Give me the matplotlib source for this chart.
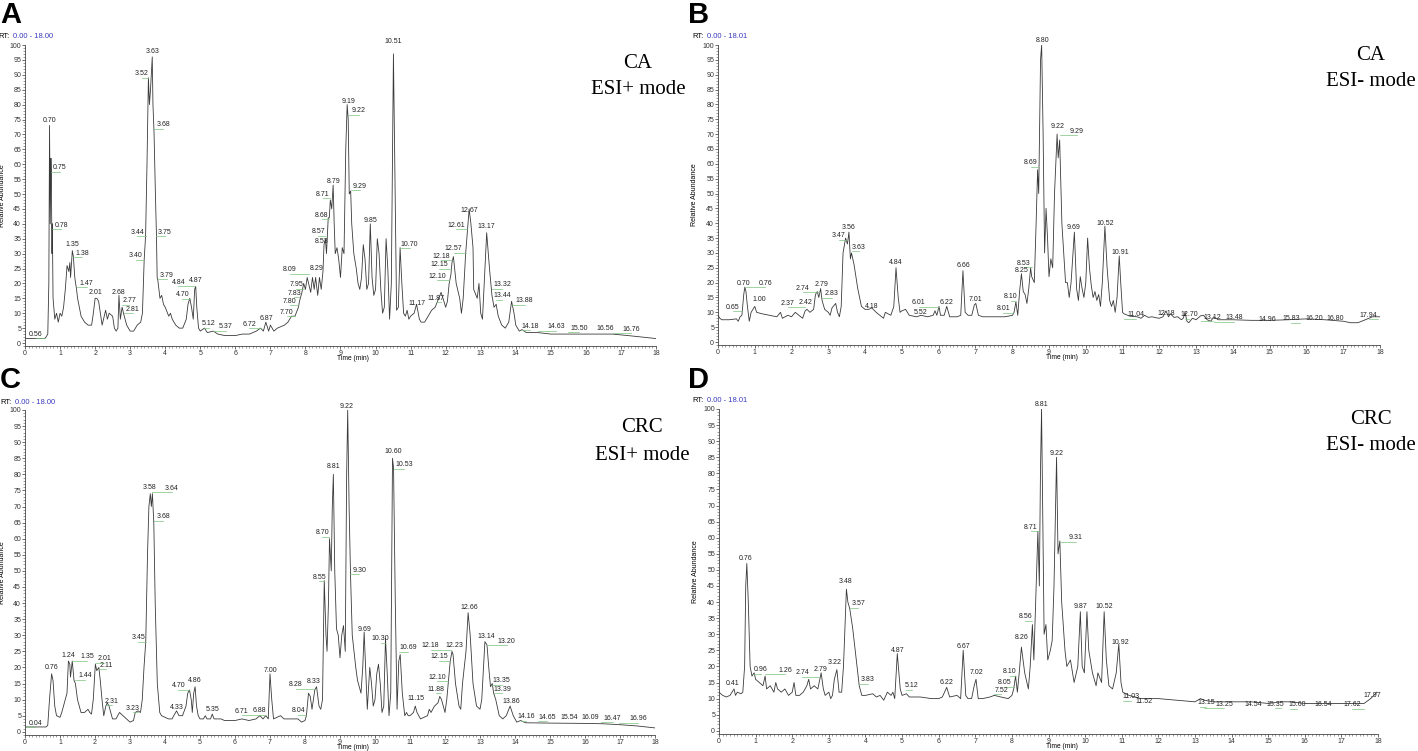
import numpy as np
import matplotlib.pyplot as plt
from matplotlib.ticker import MultipleLocator

W, H = 1418, 751

# ---- panel A : CA, ESI+ ----
a_t = [0, 0.56, 0.6, 0.65, 0.68, 0.70, 0.72, 0.74, 0.75, 0.77, 0.78, 0.80, 0.85, 0.9, 0.95, 1.0, 1.05,
       1.1, 1.15, 1.2, 1.25, 1.28, 1.3, 1.35, 1.38, 1.42, 1.47, 1.5, 1.6, 1.7, 1.8, 1.9, 1.95, 2.0, 2.05,
       2.1, 2.15, 2.2, 2.3, 2.35, 2.4, 2.5, 2.55, 2.6, 2.65, 2.68, 2.72, 2.77, 2.81, 2.9, 3.0, 3.1, 3.2,
       3.3, 3.35, 3.40, 3.44, 3.48, 3.52, 3.55, 3.58, 3.63, 3.65, 3.68, 3.72, 3.75, 3.77, 3.79, 3.85, 3.9,
       3.95, 4.0, 4.1, 4.15, 4.2, 4.3, 4.4, 4.5, 4.6, 4.65, 4.70, 4.75, 4.8, 4.84, 4.87, 4.9, 4.95, 5.0,
       5.12, 5.2, 5.37, 5.5, 5.7, 6.0, 6.2, 6.4, 6.6, 6.72, 6.8, 6.87, 6.95, 7.0, 7.1, 7.2, 7.4, 7.5, 7.6,
       7.70, 7.8, 7.83, 7.9, 7.95, 8.0, 8.05, 8.09, 8.15, 8.2, 8.25, 8.29, 8.35, 8.4, 8.45, 8.5, 8.53,
       8.57, 8.6, 8.65, 8.68, 8.71, 8.75, 8.79, 8.82, 8.85, 8.9, 8.95, 9.0, 9.05, 9.1, 9.15, 9.19, 9.22,
       9.25, 9.29, 9.32, 9.38, 9.45, 9.5, 9.55, 9.6, 9.65, 9.7, 9.75, 9.8, 9.85, 9.9, 9.95, 10.0, 10.05,
       10.1, 10.15, 10.2, 10.25, 10.3, 10.35, 10.4, 10.45, 10.51, 10.55, 10.6, 10.65, 10.70, 10.75, 10.8,
       10.85, 10.9, 10.95, 11.0, 11.1, 11.17, 11.25, 11.3, 11.4, 11.5, 11.6, 11.7, 11.8, 11.87, 11.95,
       12.0, 12.05, 12.10, 12.15, 12.18, 12.22, 12.3, 12.4, 12.45, 12.5, 12.57, 12.61, 12.67, 12.72,
       12.78, 12.8, 12.9, 12.95, 13.0, 13.05, 13.1, 13.17, 13.25, 13.32, 13.38, 13.44, 13.5, 13.6, 13.7,
       13.8, 13.88, 13.95, 14.0, 14.1, 14.18, 14.3, 14.63, 15.0, 15.5, 16.0, 16.56, 16.76, 17.2, 18.0]
a_y = [1.5, 1.5, 2, 3, 20, 73, 40, 62, 57, 30, 40, 15, 8, 10, 7, 10, 9,
       12, 18, 26, 24, 27, 22, 31, 29, 22, 18, 15, 9, 7, 6, 6, 10, 15, 15,
       14, 10, 6, 11, 8, 10, 9, 5, 4, 5, 16, 8, 12, 10, 6, 4, 4, 6,
       7, 10, 28, 36, 60, 89, 80, 85, 96, 80, 71, 50, 36, 22, 21, 15, 16,
       13, 12, 9, 10, 8, 6, 5, 5, 8, 13, 15, 12, 8, 18, 19, 12, 5, 4,
       5, 3.5, 4, 3, 2.5, 2.5, 3, 3, 4, 5, 4, 7, 4, 6, 4, 5, 6, 7, 9,
       9, 12, 14, 17, 20, 18, 22, 20, 17, 22, 18, 22, 16, 22, 18, 24, 33,
       35, 30, 42, 42, 48, 45, 53, 40, 30, 32, 28, 22, 32, 30, 65, 80, 75,
       50, 51, 40, 30, 25, 20, 18, 22, 33, 28, 18, 20, 40, 22, 16, 18, 35,
       30, 18, 10, 12, 35, 25, 8, 20, 97, 60, 11, 12, 32, 20, 10,
       9, 11, 8, 9, 10, 13, 8, 7, 7, 9, 11, 12, 15, 17, 14,
       12, 14, 20, 23, 27, 29, 20, 15, 10, 15, 30, 36, 45, 40,
       32, 18, 15, 20, 10, 8, 20, 37, 25, 16, 12, 13, 9, 6, 5,
       7, 14, 10, 6, 4, 4.5, 3.5, 3.5, 3, 3, 3, 3, 3, 2.5, 1.5]
a_labels = [("0.56", 0.31, 3.0), ("0.70", 0.71, 74.6), ("0.75", 1.0, 58.8), ("0.78", 1.03, 39.5),
            ("1.35", 1.36, 33.2), ("1.38", 1.64, 30.2), ("1.47", 1.76, 20.1), ("2.01", 2.01, 16.9),
            ("2.68", 2.68, 16.9), ("2.77", 2.97, 14.2), ("2.81", 3.07, 11.4), ("3.40", 3.16, 29.3),
            ("3.44", 3.20, 37.1), ("3.52", 3.33, 90.3), ("3.63", 3.64, 97.9), ("3.68", 3.94, 73.2),
            ("3.75", 3.99, 37.1), ("3.79", 4.04, 22.7), ("4.70", 4.49, 16.2), ("4.84", 4.37, 20.3),
            ("4.87", 4.87, 21.0), ("5.12", 5.25, 6.4), ("5.37", 5.73, 5.5), ("6.72", 6.39, 6.2),
            ("6.87", 6.89, 8.3), ("7.70", 7.46, 10.3), ("7.80", 7.55, 13.9), ("7.83", 7.68, 16.7),
            ("7.95", 7.74, 19.5), ("8.09", 7.55, 24.6), ("8.29", 8.31, 25.0), ("8.53", 8.46, 33.9),
            ("8.57", 8.36, 37.3), ("8.68", 8.46, 42.9), ("8.71", 8.50, 50.0), ("8.79", 8.79, 54.3),
            ("9.19", 9.22, 80.9), ("9.22", 9.53, 77.9), ("9.29", 9.55, 52.6), ("9.85", 9.86, 41.2),
            ("10.51", 10.50, 101.1), ("10.70", 10.97, 33.2), ("11.17", 11.18, 13.4), ("11.87", 11.72, 15.0),
            ("12.10", 11.76, 22.3), ("12.15", 11.81, 26.3), ("12.18", 11.88, 29.1), ("12.57", 12.23, 31.6),
            ("12.61", 12.29, 39.5), ("12.67", 12.67, 44.5), ("13.17", 13.16, 39.2), ("13.32", 13.62, 19.5),
            ("13.44", 13.62, 15.8), ("13.88", 14.25, 14.2), ("14.18", 14.40, 5.7), ("14.63", 15.16, 5.5),
            ("15.50", 15.80, 4.9), ("16.56", 16.56, 5.0), ("16.76", 17.29, 4.7)]

# ---- panel B : CA, ESI- ----
b_t = [0, 0.05, 0.1, 0.3, 0.5, 0.55, 0.6, 0.65, 0.7, 0.73, 0.76, 0.8, 0.85, 0.9, 1.0, 1.05, 1.2, 1.4,
       1.6, 1.7, 1.75, 1.9, 2.0, 2.1, 2.2, 2.3, 2.37, 2.42, 2.5, 2.6, 2.65, 2.7, 2.74, 2.79, 2.83, 2.9,
       3.0, 3.05, 3.1, 3.2, 3.25, 3.3, 3.35, 3.4, 3.47, 3.52, 3.56, 3.6, 3.63, 3.7, 3.8, 3.9, 4.0, 4.1,
       4.18, 4.3, 4.4, 4.5, 4.55, 4.7, 4.78, 4.84, 4.9, 4.95, 5.0, 5.1, 5.2, 5.4, 5.52, 5.7, 5.85, 5.9,
       5.95, 6.01, 6.05, 6.15, 6.22, 6.3, 6.5, 6.6, 6.66, 6.72, 6.8, 6.9, 6.97, 7.01, 7.08, 7.2, 7.5,
       7.8, 8.01, 8.05, 8.10, 8.15, 8.2, 8.25, 8.3, 8.35, 8.4, 8.45, 8.5, 8.53, 8.6, 8.65, 8.69, 8.72,
       8.77, 8.80, 8.84, 8.88, 8.92, 8.96, 9.0, 9.05, 9.1, 9.15, 9.22, 9.25, 9.29, 9.35, 9.4, 9.45, 9.5,
       9.55, 9.6, 9.69, 9.75, 9.8, 9.85, 9.9, 9.95, 10.0, 10.05, 10.1, 10.15, 10.2, 10.25, 10.3, 10.35,
       10.4, 10.45, 10.52, 10.58, 10.65, 10.7, 10.75, 10.8, 10.85, 10.91, 10.95, 11.0, 11.04, 11.2, 11.4,
       11.5, 11.6, 11.7, 11.8, 11.9, 12.0, 12.1, 12.18, 12.25, 12.3, 12.4, 12.5, 12.6, 12.65, 12.70,
       12.75, 12.8, 12.9, 13.0, 13.12, 13.2, 13.3, 13.4, 13.48, 13.6, 14.0, 14.5, 15.0, 15.5, 16.0, 16.5,
       17.0, 17.2, 17.4, 17.6, 17.8, 18.0]
b_y = [9, 8, 7.5, 7.5, 7.8, 7, 8.5, 9, 16, 18.5, 17, 12, 7, 10, 12, 10, 9.5, 9,
       8.5, 10, 8, 9, 8.5, 10, 9, 8, 10.5, 11, 10, 11, 16, 17, 15, 18, 14, 11,
       10, 9, 11.5, 13, 10, 8.5, 12, 30, 35, 33, 37, 28, 30, 26, 18, 12, 11, 11,
       11.5, 10, 9, 8, 10, 9, 12, 25, 15, 10, 10.5, 11, 9, 8.5, 9, 8.5, 9, 10.5,
       9, 12, 9, 9, 12, 8.5, 8.5, 9, 24, 10, 9, 9, 12.5, 13, 9, 8.5, 8.5,
       8.5, 9, 10, 13.5, 9, 17, 23, 17, 16, 13, 18, 25, 22, 20, 40, 58, 50,
       95, 100, 70, 30, 45, 35, 22, 28, 25, 50, 70, 62, 68, 40, 30, 20, 20,
       15, 20, 37, 18, 14, 22, 18, 15, 20, 35, 25, 19, 15, 17, 14, 16,
       12, 20, 39, 25, 14, 12, 14, 10, 15, 29, 20, 10, 9.5, 8.7, 8.5,
       8, 9, 8.3, 8.5, 8.2, 8, 8.5, 10.5, 8.5, 9.5, 8.3, 8.5, 7.5, 8, 10,
       7, 6.5, 8, 7.5, 8.8, 9, 7.5, 7, 8.5, 7.5, 7.5, 7.3, 7.3, 7.5, 7.8, 7.5,
       7, 6.5, 6.5, 7.5, 8.5, 8.5]
b_labels = [("0.65", 0.40, 11.7), ("0.70", 0.70, 19.7), ("0.76", 1.29, 19.7), ("1.00", 1.11, 14.3),
            ("2.37", 1.90, 13.0), ("2.42", 2.38, 13.4), ("2.74", 2.31, 18.0), ("2.79", 2.81, 19.4),
            ("2.83", 3.10, 16.2), ("3.47", 3.29, 35.7), ("3.56", 3.56, 38.6), ("3.63", 3.83, 31.8),
            ("4.18", 4.17, 12.0), ("4.84", 4.83, 26.9), ("5.52", 5.51, 10.0), ("6.01", 5.46, 13.2),
            ("6.22", 6.21, 13.4), ("6.66", 6.66, 25.6), ("7.01", 7.01, 14.3), ("8.01", 7.76, 11.2),
            ("8.10", 7.96, 15.2), ("8.25", 8.26, 24.2), ("8.53", 8.32, 26.4), ("8.69", 8.50, 60.3),
            ("8.80", 8.82, 101.5), ("9.22", 9.23, 72.4), ("9.29", 9.76, 70.9), ("9.69", 9.68, 38.6),
            ("10.52", 10.54, 40.0), ("10.91", 10.93, 30.1), ("11.04", 11.37, 9.2), ("12.18", 12.20, 9.5),
            ("12.70", 12.82, 9.2), ("13.12", 13.45, 8.3), ("13.48", 14.04, 8.1), ("14.96", 14.94, 7.5),
            ("15.83", 15.58, 7.8), ("16.20", 16.20, 7.8), ("16.80", 16.79, 7.8), ("17.94", 17.69, 8.9)]

# ---- panel C : CRC, ESI+ ----
c_t = [0, 0.6, 0.65, 0.7, 0.76, 0.8, 0.85, 0.9, 1.0, 1.05, 1.1, 1.15, 1.2, 1.24, 1.28, 1.3, 1.35, 1.4,
       1.44, 1.5, 1.6, 1.7, 1.8, 1.85, 1.9, 1.95, 2.01, 2.05, 2.11, 2.15, 2.2, 2.25, 2.31, 2.35, 2.4,
       2.45, 2.5, 2.6, 2.7, 2.8, 2.9, 3.0, 3.1, 3.15, 3.23, 3.3, 3.35, 3.4, 3.45, 3.5, 3.54, 3.58, 3.61,
       3.64, 3.68, 3.72, 3.78, 3.85, 3.9, 4.0, 4.1, 4.2, 4.25, 4.33, 4.4, 4.5, 4.6, 4.65, 4.70, 4.75,
       4.78, 4.82, 4.86, 4.9, 4.95, 5.0, 5.1, 5.15, 5.2, 5.3, 5.35, 5.4, 5.5, 5.6, 5.7, 6.0, 6.2, 6.4,
       6.6, 6.71, 6.8, 6.88, 6.95, 7.0, 7.05, 7.1, 7.2, 7.3, 7.4, 7.6, 7.8, 7.9, 8.0, 8.04, 8.1, 8.15,
       8.2, 8.28, 8.33, 8.4, 8.45, 8.5, 8.55, 8.6, 8.63, 8.67, 8.70, 8.75, 8.78, 8.81, 8.85, 8.9, 8.95,
       9.0, 9.05, 9.1, 9.15, 9.19, 9.22, 9.26, 9.3, 9.35, 9.4, 9.45, 9.5, 9.55, 9.6, 9.65, 9.69, 9.73,
       9.78, 9.85, 9.9, 9.95, 10.0, 10.05, 10.1, 10.15, 10.2, 10.25, 10.3, 10.35, 10.4, 10.45, 10.5,
       10.53, 10.58, 10.63, 10.68, 10.72, 10.78, 10.85, 10.9, 10.95, 11.0, 11.1, 11.15, 11.2, 11.3,
       11.4, 11.5, 11.55, 11.6, 11.7, 11.8, 11.85, 11.9, 11.95, 12.0, 12.05, 12.1, 12.15, 12.2, 12.23,
       12.3, 12.4, 12.45, 12.5, 12.6, 12.66, 12.72, 12.8, 12.9, 13.0, 13.05, 13.1, 13.14, 13.2, 13.25,
       13.3, 13.35, 13.39, 13.45, 13.55, 13.65, 13.75, 13.86, 13.95, 14.05, 14.16, 14.3, 15.0, 16.0,
       16.5, 17.0, 17.5, 18.0]
c_y = [1.5, 1.5, 2, 10, 18, 16, 8, 5, 4.5, 6, 8, 10, 12, 22, 21, 17, 22, 16,
       15, 10, 6, 6, 7, 6, 5.5, 10, 21, 19, 20, 16, 10, 5, 8, 9, 8,
       6, 4, 4, 6, 5, 4, 3, 3.5, 6, 6.5, 6, 10, 20, 28, 55, 70, 74, 70,
       74, 65, 40, 15, 6, 5, 4.5, 4, 4, 5, 6.5, 5, 5, 8, 12, 13, 10,
       6, 12, 14, 8, 5, 4, 4, 5, 4, 4, 5.5, 4, 4, 4, 3.5, 3.5, 4, 3.5,
       4, 5, 4, 5, 4, 18, 10, 4, 4.5, 5, 4, 4, 4, 3, 3.5, 5, 12, 11,
       7, 13, 14, 8, 7, 10, 47, 30, 25, 40, 60, 50, 70, 80, 50, 32, 30,
       23, 30, 33, 25, 80, 100, 70, 49, 30, 25, 20, 16, 14, 12, 20, 31, 20,
       7, 20, 15, 8, 10, 18, 21, 15, 6, 8, 29, 18, 5, 12, 85,
       82, 40, 7, 22, 24, 12, 5, 6, 5, 5, 6, 8, 6, 4,
       4.5, 5, 7, 6, 8, 9, 11, 10, 8, 6, 10, 16, 22, 25, 24,
       15, 8, 7, 15, 25, 37, 30, 15, 8, 7, 10, 20, 28, 27, 20,
       14, 15, 12, 10, 5, 4, 5, 8, 5, 3, 3.5, 2.8, 2.7, 2.6,
       2.5, 2.2, 1.8, 1.2]
c_labels = [("0.04", 0.29, 2.7), ("0.76", 0.76, 19.9), ("1.24", 1.24, 23.8), ("1.35", 1.78, 23.3),
            ("1.44", 1.71, 17.5), ("2.01", 2.26, 22.8), ("2.11", 2.31, 20.7), ("2.31", 2.48, 9.5),
            ("3.23", 3.08, 7.3), ("3.45", 3.24, 29.2), ("3.58", 3.57, 76.0), ("3.64", 4.19, 75.7),
            ("3.68", 3.95, 66.8), ("4.33", 4.33, 7.6), ("4.70", 4.38, 14.4), ("4.86", 4.86, 15.8),
            ("5.35", 5.35, 6.9), ("6.71", 6.19, 6.4), ("6.88", 6.71, 6.6), ("7.00", 7.00, 18.9),
            ("8.04", 7.81, 6.6), ("8.28", 7.74, 14.7), ("8.33", 8.24, 15.7), ("8.55", 8.41, 48.1),
            ("8.70", 8.50, 61.9), ("8.81", 8.81, 82.5), ("9.22", 9.19, 101.2), ("9.30", 9.55, 50.2),
            ("9.69", 9.69, 31.9), ("10.30", 10.16, 29.0), ("10.60", 10.51, 87.2), ("10.53", 10.83, 83.1),
            ("10.69", 10.95, 26.1), ("11.15", 11.17, 10.2), ("11.88", 11.74, 13.2), ("12.10", 11.78, 17.0),
            ("12.15", 11.83, 23.3), ("12.18", 11.59, 26.7), ("12.23", 12.26, 26.7), ("12.66", 12.69, 38.7),
            ("13.14", 13.17, 29.6), ("13.20", 13.76, 28.2), ("13.35", 13.62, 15.8), ("13.39", 13.64, 13.2),
            ("13.86", 13.88, 9.4), ("14.16", 14.31, 4.8), ("14.65", 14.92, 4.5), ("15.54", 15.55, 4.5),
            ("16.09", 16.14, 4.5), ("16.47", 16.79, 4.2), ("16.96", 17.51, 4.0)]

# ---- panel D : CRC, ESI- ----
d_t = [0, 0.1, 0.2, 0.3, 0.41, 0.45, 0.5, 0.6, 0.65, 0.7, 0.73, 0.76, 0.8, 0.85, 0.9, 0.96, 1.0, 1.1,
       1.2, 1.26, 1.3, 1.4, 1.5, 1.55, 1.6, 1.7, 1.8, 1.9, 2.0, 2.05, 2.1, 2.2, 2.3, 2.4, 2.45, 2.5, 2.6,
       2.7, 2.79, 2.85, 2.9, 3.0, 3.05, 3.1, 3.15, 3.22, 3.28, 3.35, 3.4, 3.48, 3.52, 3.57, 3.65, 3.75,
       3.83, 3.9, 4.0, 4.2, 4.3, 4.4, 4.5, 4.6, 4.7, 4.75, 4.8, 4.87, 4.95, 5.0, 5.12, 5.2, 5.5, 5.8,
       6.0, 6.1, 6.22, 6.3, 6.5, 6.6, 6.67, 6.74, 6.8, 6.9, 6.97, 7.02, 7.08, 7.2, 7.4, 7.52, 7.7, 7.9,
       8.0, 8.05, 8.1, 8.15, 8.2, 8.26, 8.35, 8.45, 8.5, 8.56, 8.6, 8.65, 8.71, 8.75, 8.78, 8.81, 8.85,
       8.88, 8.93, 8.98, 9.05, 9.1, 9.15, 9.22, 9.26, 9.31, 9.36, 9.45, 9.5, 9.6, 9.7, 9.8, 9.87, 9.92,
       9.98, 10.05, 10.1, 10.2, 10.3, 10.35, 10.45, 10.52, 10.58, 10.65, 10.75, 10.85, 10.92, 10.98,
       11.03, 11.2, 11.52, 11.8, 12.0, 12.5, 13.0, 13.15, 13.25, 13.5, 14.0, 14.54, 15.0, 15.35, 15.6,
       16.0, 16.54, 17.0, 17.62, 17.8, 17.97]
d_y = [12, 11, 10.5, 11, 13, 11, 12, 11.5, 12, 20, 45, 52, 40, 20, 17, 18, 16, 15,
       14, 17, 13, 14, 12, 15, 13, 12, 13, 11, 12, 15, 11, 11, 12, 14, 16, 13, 14,
       13, 18, 13, 11, 12, 10, 11, 16, 19, 12, 12, 20, 44, 40, 38, 32, 22,
       14, 11, 11, 11.5, 10.5, 11, 9.5, 12, 11, 12, 10, 24, 13, 11, 11.5, 10.5, 10.5, 10,
       10, 10.5, 13.5, 10.5, 11, 10, 25, 11, 10, 10, 14, 16, 10, 10, 10.5, 11, 10.5, 10,
       11, 13, 17, 12, 18, 26, 18, 13, 20, 33, 22, 40, 62, 45, 80, 100, 60,
       30, 33, 22, 25, 28, 45, 85, 55, 59, 40, 25, 20, 22, 15, 20, 37, 20,
       18, 37, 25, 18, 14, 18, 15, 37, 22, 14, 13, 18, 27, 15,
       12, 11, 10, 10, 10, 9.5, 9, 10, 9.5, 9, 9, 9, 8.5, 9, 9,
       8.5, 8.5, 8.5, 8.5, 10, 12]
d_labels = [("0.41", 0.38, 14.6), ("0.76", 0.73, 53.6), ("0.96", 1.14, 19.1), ("1.26", 1.80, 18.8),
            ("2.74", 2.28, 18.1), ("2.79", 2.78, 19.1), ("3.22", 3.16, 21.2), ("3.48", 3.46, 46.3),
            ("3.57", 3.81, 39.5), ("3.83", 4.07, 15.8), ("4.87", 4.87, 25.1), ("5.12", 5.26, 14.1),
            ("6.22", 6.21, 14.9), ("6.67", 6.67, 26.2), ("7.02", 7.03, 18.1), ("7.52", 7.71, 12.6),
            ("8.05", 7.79, 14.9), ("8.10", 7.95, 18.3), ("8.26", 8.27, 29.0), ("8.56", 8.36, 35.5),
            ("8.71", 8.52, 63.3), ("8.81", 8.82, 101.4), ("9.22", 9.23, 86.1), ("9.31", 9.75, 60.0),
            ("9.87", 9.87, 38.5), ("10.52", 10.53, 38.5), ("10.92", 10.95, 27.5), ("11.03", 11.25, 10.5),
            ("11.52", 11.6, 9.2), ("13.15", 13.3, 8.7), ("13.25", 13.8, 8.3), ("14.54", 14.6, 8.3),
            ("15.35", 15.2, 8.3), ("15.60", 15.8, 8.2), ("16.54", 16.5, 8.2), ("17.62", 17.3, 8.2),
            ("17.97", 17.85, 11.0)]


def px_rect(left, right, top, bottom):
    return [left / W, 1 - bottom / H, (right - left) / W, (bottom - top) / H]


def draw_panel(fig, rect, t, y, labels):
    ax = fig.add_axes(rect)
    ax.plot(t, y, color='#3a3a3a', lw=0.6)
    for txt, x, ly in labels:
        rt = float(txt)
        if abs(x - rt) > 0.12:
            ax.plot([rt, x], [ly - 1.3, ly - 1.3], color='#7cc47c', lw=0.5, clip_on=False)
        ax.text(x, ly, txt, fontsize=5, ha='center', va='center', color='#222222',
                family='Liberation Sans', clip_on=False)
    ax.set_xlim(0, 18)
    ax.set_ylim(-1, 100)
    ax.set_xticks(range(0, 19))
    ax.set_yticks(range(0, 101, 5))
    ax.xaxis.set_minor_locator(MultipleLocator(0.1))
    ax.yaxis.set_minor_locator(MultipleLocator(1))
    ax.tick_params(which='major', labelsize=5, length=2.2, width=0.5, pad=0.6, colors='#333333')
    ax.tick_params(which='minor', length=1.1, width=0.4, colors='#555555')
    for s in ['top', 'right']:
        ax.spines[s].set_visible(False)
    for s in ['left', 'bottom']:
        ax.spines[s].set_linewidth(0.6)
        ax.spines[s].set_color('#444444')
    for lab in ax.get_xticklabels() + ax.get_yticklabels():
        lab.set_family('Liberation Sans')
    ax.set_xlabel('Time (min)', fontsize=4.8, family='Liberation Sans')
    # axis title sits just under the tick labels, below the 9 tick
    h_px = rect[3] * H
    ax.xaxis.set_label_coords(0.52, -9.2 / h_px)
    ax.set_ylabel('Relative Abundance', fontsize=5, family='Liberation Sans')
    ax.yaxis.set_label_coords(-0.03, 0.5)
    return ax


fig = plt.figure(figsize=(W / 100, H / 100), dpi=100)

draw_panel(fig, px_rect(25, 656, 45, 346), a_t, a_y, a_labels)
draw_panel(fig, px_rect(718, 1380, 45, 345), b_t, b_y, b_labels)
draw_panel(fig, px_rect(25, 655, 410, 735), c_t, c_y, c_labels)
draw_panel(fig, px_rect(719, 1378, 409, 734), d_t, d_y, d_labels)


def ftext(x, y, s, **kw):
    fig.text(x / W, 1 - y / H, s, **kw)


# panel letters
for x, y, s in [(0, 1, 'A'), (688, 1, 'B'), (0, 366, 'C'), (688, 366, 'D')]:
    ftext(x, y, s, fontsize=21, fontweight='bold', va='top', ha='left', family='Liberation Sans')

# RT range
for x, y, rng in [(-2, 36, '0.00 - 18.00'), (692, 36, '0.00 - 18.01'),
                  (0, 402, '0.00 - 18.00'), (692, 401, '0.00 - 18.01')]:
    ftext(x, y, 'RT:', fontsize=5.5, va='center', ha='left', family='Liberation Sans')
    ftext(x + 15, y, rng, fontsize=5.5, va='center', ha='left', color='#3b3bc0',
          family='Liberation Sans')

# sample / mode
for x, y1, y2, s1, s2 in [(638, 63, 90, 'CA', 'ESI+ mode'), (1371, 55, 81, 'CA', 'ESI- mode'),
                          (642, 428, 456, 'CRC', 'ESI+ mode'), (1371, 420, 446, 'CRC', 'ESI- mode')]:
    ftext(x, y1, s1, fontsize=15, ha='center', va='center', family='Liberation Serif')
    ftext(x, y2, s2, fontsize=15, ha='center', va='center', family='Liberation Serif')

plt.savefig('out.png', dpi=100)
